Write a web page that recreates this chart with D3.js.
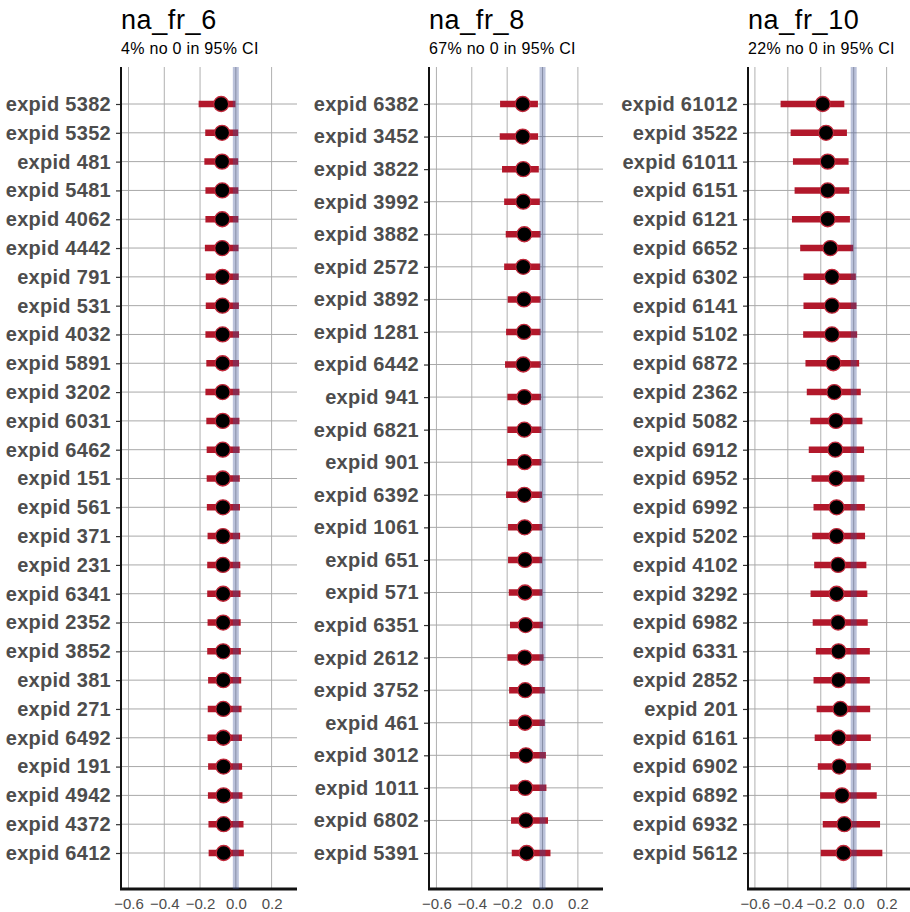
<!DOCTYPE html>
<html>
<head>
<meta charset="utf-8">
<script src="https://cdn.jsdelivr.net/npm/d3@7"></script>
<style>
  body { margin: 0; background: #fff; }
  svg { font-family: "Liberation Sans", Arial, sans-serif; }
</style>
</head>
<body>
<div id="chart"></div>
<script>
// panel titles and subtitles
const panelTitles = ["na_fr_6", "na_fr_8", "na_fr_10"];
const panelSubtitles = ["4% no 0 in 95% CI", "67% no 0 in 95% CI", "22% no 0 in 95% CI"];
const xTicks = [-0.6, -0.4, -0.2, 0, 0.2];

// na_fr_6
const fr6Labels = ["expid 5382", "expid 5352", "expid 481", "expid 5481", "expid 4062", "expid 4442", "expid 791",
    "expid 531", "expid 4032", "expid 5891", "expid 3202", "expid 6031", "expid 6462", "expid 151", "expid 561",
    "expid 371", "expid 231", "expid 6341", "expid 2352", "expid 3852", "expid 381", "expid 271", "expid 6492",
    "expid 191", "expid 4942", "expid 4372", "expid 6412"];
const fr6Est = [-0.082, -0.077, -0.077, -0.076, -0.076, -0.076, -0.075, -0.075, -0.074, -0.074, -0.074, -0.073, -0.073,
    -0.073, -0.072, -0.072, -0.072, -0.071, -0.071, -0.071, -0.070, -0.070, -0.070, -0.069, -0.069, -0.068, -0.068];
const fr6Lo = [-0.208, -0.171, -0.176, -0.170, -0.170, -0.173, -0.168, -0.168, -0.170, -0.165, -0.170, -0.165, -0.163,
    -0.163, -0.162, -0.158, -0.160, -0.160, -0.158, -0.160, -0.155, -0.157, -0.158, -0.155, -0.156, -0.153, -0.152];
const fr6Hi = [-0.002, 0.013, 0.013, 0.014, 0.014, 0.015, 0.016, 0.017, 0.018, 0.018, 0.020, 0.020, 0.021,
    0.022, 0.023, 0.024, 0.025, 0.026, 0.027, 0.028, 0.030, 0.032, 0.034, 0.035, 0.037, 0.043, 0.045];

// na_fr_8
const fr8Labels = ["expid 6382", "expid 3452", "expid 3822", "expid 3992", "expid 3882", "expid 2572", "expid 3892",
    "expid 1281", "expid 6442", "expid 941", "expid 6821", "expid 901", "expid 6392", "expid 1061", "expid 651",
    "expid 571", "expid 6351", "expid 2612", "expid 3752", "expid 461", "expid 3012", "expid 1011", "expid 6802",
    "expid 5391"];
const fr8Est = [-0.112, -0.112, -0.109, -0.109, -0.103, -0.109, -0.105, -0.105, -0.109, -0.103, -0.103, -0.101,
    -0.103, -0.101, -0.099, -0.099, -0.096, -0.101, -0.098, -0.099, -0.094, -0.098, -0.094, -0.090];
const fr8Lo = [-0.240, -0.242, -0.229, -0.217, -0.208, -0.217, -0.197, -0.206, -0.212, -0.199, -0.199, -0.201,
    -0.206, -0.195, -0.195, -0.191, -0.184, -0.199, -0.189, -0.188, -0.184, -0.184, -0.178, -0.174];
const fr8Hi = [-0.026, -0.025, -0.021, -0.015, -0.011, -0.013, -0.011, -0.011, -0.010, -0.008, -0.006, -0.006,
    -0.003, -0.002, -0.002, -0.001, 0.003, 0.006, 0.013, 0.013, 0.019, 0.022, 0.031, 0.045];

// na_fr_10
const fr10Labels = ["expid 61012", "expid 3522", "expid 61011", "expid 6151", "expid 6121", "expid 6652", "expid 6302",
    "expid 6141", "expid 5102", "expid 6872", "expid 2362", "expid 5082", "expid 6912", "expid 6952", "expid 6992",
    "expid 5202", "expid 4102", "expid 3292", "expid 6982", "expid 6331", "expid 2852", "expid 201", "expid 6161",
    "expid 6902", "expid 6892", "expid 6932", "expid 5612"];
const fr10Est = [-0.188, -0.168, -0.158, -0.158, -0.158, -0.142, -0.132, -0.132, -0.132, -0.124, -0.118, -0.108,
    -0.112, -0.108, -0.104, -0.104, -0.095, -0.104, -0.095, -0.092, -0.092, -0.081, -0.092, -0.088, -0.071, -0.057, -0.062];
const fr10Lo = [-0.444, -0.383, -0.369, -0.359, -0.375, -0.325, -0.305, -0.305, -0.307, -0.293, -0.285, -0.264,
    -0.273, -0.256, -0.244, -0.252, -0.240, -0.262, -0.249, -0.230, -0.244, -0.225, -0.237, -0.218, -0.204, -0.188, -0.200];
const fr10Hi = [-0.057, -0.041, -0.031, -0.027, -0.023, -0.003, 0.013, 0.017, 0.021, 0.033, 0.043, 0.053,
    0.063, 0.065, 0.068, 0.069, 0.077, 0.083, 0.085, 0.098, 0.098, 0.100, 0.104, 0.104, 0.140, 0.160, 0.174];

const panelData = [
    { labels: fr6Labels, est: fr6Est, lo: fr6Lo, hi: fr6Hi },
    { labels: fr8Labels, est: fr8Est, lo: fr8Lo, hi: fr8Hi },
    { labels: fr10Labels, est: fr10Est, lo: fr10Lo, hi: fr10Hi }
];

// layout of the three plot areas
const panelLeft = [121, 429, 748];
const panelRight = [297, 603, 910];
const plotTop = 67, plotBottom = 889;
const rowPadTop = 37, rowPadBottom = 36;
const xDomain = [-0.642, 0.342];

const svg = d3.select("#chart").append("svg")
    .attr("width", 910)
    .attr("height", 912);

panelData.forEach((p, i) => {
    const g = svg.append("g");
    const xScale = d3.scaleLinear().domain(xDomain).range([panelLeft[i], panelRight[i]]);
    const yScale = d3.scalePoint().domain(p.labels).range([plotTop + rowPadTop, plotBottom - rowPadBottom]);
    const rows = p.labels.map((d, j) => ({ label: d, est: p.est[j], lo: p.lo[j], hi: p.hi[j] }));

    // titles
    g.append("text")
        .attr("x", panelLeft[i])
        .attr("y", 29)
        .attr("font-size", "27px")
        .attr("fill", "#000")
        .attr("letter-spacing", "0.6px")
        .text(panelTitles[i]);
    g.append("text")
        .attr("x", panelLeft[i])
        .attr("y", 54)
        .attr("font-size", "16px")
        .attr("fill", "#000")
        .attr("letter-spacing", "0.3px")
        .text(panelSubtitles[i]);

    // vertical grid
    g.selectAll(".vgrid")
        .data(xTicks)
        .enter().append("line")
        .attr("x1", d => xScale(d)).attr("x2", d => xScale(d))
        .attr("y1", plotTop).attr("y2", plotBottom)
        .attr("stroke", "#b0b0b0")
        .attr("stroke-width", 1);

    // horizontal grid
    g.selectAll(".hgrid")
        .data(p.labels)
        .enter().append("line")
        .attr("x1", panelLeft[i]).attr("x2", panelRight[i])
        .attr("y1", d => yScale(d)).attr("y2", d => yScale(d))
        .attr("stroke", "#a8a8a8")
        .attr("stroke-width", 1);

    // y axis
    const yAxis = d3.axisLeft(yScale).tickSize(5).tickPadding(5);
    const yG = g.append("g")
        .attr("transform", `translate(${panelLeft[i]},0)`)
        .call(yAxis);
    yG.select(".domain").remove();
    yG.selectAll(".tick line").attr("stroke", "#333").attr("stroke-width", 1.2);
    yG.selectAll(".tick text")
        .attr("font-size", "20px")
        .attr("font-weight", "bold")
        .attr("fill", "#4d4d4d")
        .attr("letter-spacing", "0.3px")
        .style("font-family", "'Liberation Sans', Arial, sans-serif");

    // x axis
    const xAxis = d3.axisBottom(xScale).tickValues(xTicks).tickFormat(d3.format(".1f")).tickSize(0).tickPadding(9);
    const xG = g.append("g")
        .attr("transform", `translate(0,${plotBottom})`)
        .call(xAxis);
    xG.select(".domain").remove();
    xG.selectAll(".tick text")
        .attr("font-size", "15px")
        .attr("fill", "#4d4d4d")
        .style("font-family", "'Liberation Sans', Arial, sans-serif");

    // axis lines
    g.append("line")
        .attr("x1", panelLeft[i]).attr("x2", panelLeft[i])
        .attr("y1", plotTop).attr("y2", plotBottom)
        .attr("stroke", "#111").attr("stroke-width", 2);
    g.append("line")
        .attr("x1", panelLeft[i] - 1).attr("x2", panelRight[i])
        .attr("y1", plotBottom).attr("y2", plotBottom)
        .attr("stroke", "#111").attr("stroke-width", 3);

    // CI bars
    g.selectAll(".bar")
        .data(rows)
        .enter().append("line")
        .attr("class", "bar")
        .attr("x1", d => xScale(d.lo)).attr("x2", d => xScale(d.hi))
        .attr("y1", d => yScale(d.label)).attr("y2", d => yScale(d.label))
        .attr("stroke", "#b2182b")
        .attr("stroke-width", 6.5);

    // zero reference band
    g.append("line")
        .attr("x1", xScale(0)).attr("x2", xScale(0))
        .attr("y1", plotTop).attr("y2", plotBottom)
        .attr("stroke", "rgb(60,80,150)")
        .attr("stroke-opacity", 0.35)
        .attr("stroke-width", 6);

    // point estimates
    g.selectAll(".pt")
        .data(rows)
        .enter().append("circle")
        .attr("class", "pt")
        .attr("cx", d => xScale(d.est))
        .attr("cy", d => yScale(d.label))
        .attr("r", 7.5)
        .attr("fill", "#000")
        .attr("stroke", "#c0283a")
        .attr("stroke-width", 1.3);
});
</script>
</body>
</html>
